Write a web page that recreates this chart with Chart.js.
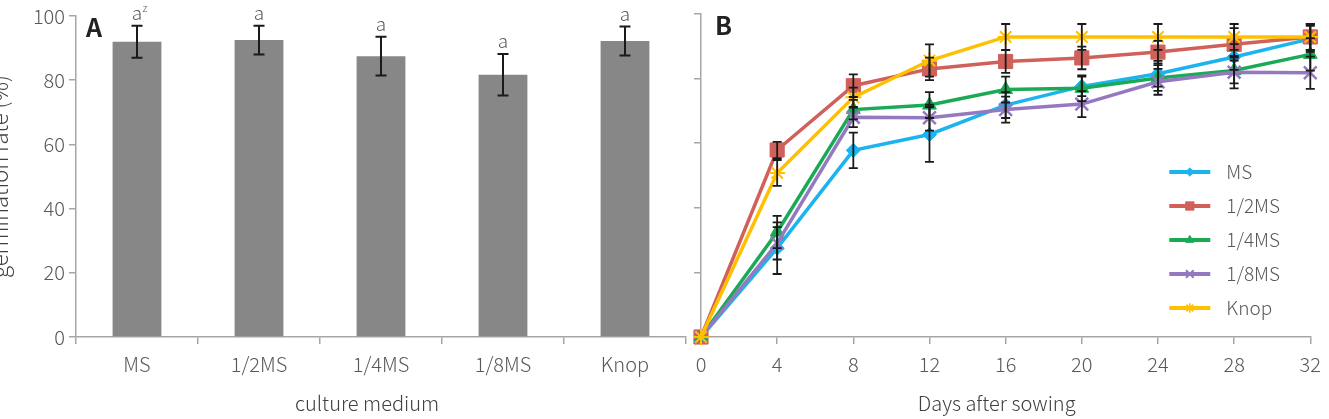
<!DOCTYPE html>
<html>
<head>
<meta charset="utf-8">
<script src="https://cdn.jsdelivr.net/npm/chart.js@4.4.0/dist/chart.umd.min.js"></script>
<style>
  html, body { margin: 0; padding: 0; background: #fff; overflow: hidden; }
  #wrap { position: relative; width: 1329px; height: 419px; overflow: hidden; }
  canvas { position: absolute; top: 0; }
  #chartA { left: -13px; }
  #chartB { left: 650px; }
</style>
</head>
<body>
<div id="wrap">
  <canvas id="chartA" width="712" height="419"></canvas>
  <canvas id="chartB" width="679" height="419"></canvas>
</div>
<script>
// Panel A - germination rate by culture medium
const media = ['MS', '1/2MS', '1/4MS', '1/8MS', 'Knop'];
const rateMean = [92, 92.5, 87.5, 81.7, 92.2];
const rateErr = [5, 4.5, 6, 6.5, 4.5];
const rateLetters = ['a', 'a', 'a', 'a', 'a'];

// Panel B - germination over time
const days = [0, 4, 8, 12, 16, 20, 24, 28, 32];
const msRate = [0, 27.5, 57.8, 62.7, 71.8, 77.6, 81.5, 86.7, 92.3];
const halfRate = [0, 57.9, 77.8, 83, 85.3, 86.4, 88.2, 90.6, 92.9];
const quarterRate = [0, 32.5, 70.4, 71.8, 76.6, 77, 80.2, 82.5, 87.5];
const eighthRate = [0, 29, 68, 67.9, 70.4, 72.1, 79, 82, 81.8];
const knopRate = [0, 50.8, 74.2, 85.6, 92.9, 92.9, 92.9, 92.9, 92.9];
const msErr = [0, 8, 5.5, 8.5, 4, 3, 4, 4, 4];
const halfErr = [0, 2.5, 3.5, 3.5, 3.5, 3.5, 3.5, 5, 4];
const quarterErr = [0, 5, 3, 4, 4, 4, 4, 4, 5];
const eighthErr = [0, 5, 3, 4, 4, 4, 4, 5, 5];
const knopErr = [0, 4, 3, 5, 4, 4, 4, 4, 4];

const axisColor = '#a6a6a6';
const tickColor = '#595959';
const titleColor = '#404040';
const fam = "'Noto Sans CJK KR', 'Noto Sans', sans-serif";

Chart.defaults.font.family = fam;
Chart.defaults.font.weight = 300;

function drawErrorBar(ctx, x, yTop, yBot, cap) {
    ctx.beginPath();
    ctx.moveTo(x, yTop);
    ctx.lineTo(x, yBot);
    ctx.moveTo(x - cap / 2, yTop);
    ctx.lineTo(x + cap / 2, yTop);
    ctx.moveTo(x - cap / 2, yBot);
    ctx.lineTo(x + cap / 2, yBot);
    ctx.stroke();
}

// x axis title, drawn a little left of the plot centre as in the figure
function drawXTitle(chart, text, shift) {
    const ctx = chart.ctx;
    const area = chart.chartArea;
    ctx.save();
    ctx.fillStyle = titleColor;
    ctx.font = '300 20px ' + fam;
    ctx.textAlign = 'center';
    ctx.textBaseline = 'alphabetic';
    ctx.fillText(text, (area.left + area.right) / 2 + shift, 411);
    ctx.restore();
}

// error bars, letters and the panel letter for A
const barExtras = {
    id: 'barExtras',
    afterDatasetsDraw(chart) {
        const ctx = chart.ctx;
        const y = chart.scales.y;
        const meta = chart.getDatasetMeta(0);
        ctx.save();
        ctx.strokeStyle = '#1a1a1a';
        ctx.lineWidth = 2;
        meta.data.forEach((bar, i) => {
            const top = y.getPixelForValue(rateMean[i] + rateErr[i]);
            const bot = y.getPixelForValue(rateMean[i] - rateErr[i]);
            drawErrorBar(ctx, bar.x, top, bot, 11);
            ctx.fillStyle = tickColor;
            ctx.font = '300 19px ' + fam;
            ctx.textAlign = 'center';
            ctx.textBaseline = 'middle';
            ctx.fillText(rateLetters[i], bar.x, top - 13);
            if (i === 0) {
                ctx.font = '300 11px ' + fam;
                ctx.fillText('z', bar.x + 8, top - 18);
            }
        });
        ctx.fillStyle = '#222';
        ctx.font = 'bold 25px ' + fam;
        ctx.textAlign = 'left';
        ctx.textBaseline = 'top';
        ctx.fillText('A', chart.chartArea.left + 10, chart.chartArea.top - 1);
        ctx.restore();
    },
    afterDraw(chart) {
        drawXTitle(chart, 'culture medium', -14);
    }
};

new Chart(document.getElementById('chartA'), {
    type: 'bar',
    data: {
        labels: media,
        datasets: [{
            data: rateMean,
            backgroundColor: '#878787',
            barPercentage: 0.4,
            categoryPercentage: 1
        }]
    },
    options: {
        responsive: false,
        animation: false,
        layout: { padding: { top: 14, right: 13, left: 0, bottom: 0 } },
        plugins: { legend: { display: false }, tooltip: { enabled: false } },
        scales: {
            x: {
                grid: { drawOnChartArea: false, tickLength: 7, color: axisColor, lineWidth: 1.5, offset: true },
                border: { color: axisColor, width: 1.5 },
                ticks: { color: tickColor, font: { size: 20 }, padding: 8 },
                afterFit: s => { s.height = 82; }
            },
            y: {
                min: 0,
                max: 100,
                ticks: { stepSize: 20, color: tickColor, font: { size: 20 }, padding: 4 },
                grid: { drawOnChartArea: false, tickLength: 7, color: axisColor, lineWidth: 1.5 },
                border: { color: axisColor, width: 1.5 },
                title: {
                    display: true, text: 'germination rate (%)', color: titleColor,
                    font: { size: 22, lineHeight: 1 }, padding: { top: 2, bottom: 0 }
                },
                afterFit: s => { s.width = 89; }
            }
        }
    },
    plugins: [barExtras]
});

// Panel B
const series = [
    { label: 'MS', data: msRate, err: msErr, color: '#1cb4ee', style: 'rectRot', radius: 7, bw: 1 },
    { label: '1/2MS', data: halfRate, err: halfErr, color: '#d0605a', style: 'rect', radius: 10, bw: 1 },
    { label: '1/4MS', data: quarterRate, err: quarterErr, color: '#1aaa55', style: 'triangle', radius: 8, bw: 1 },
    { label: '1/8MS', data: eighthRate, err: eighthErr, color: '#9479c0', style: 'crossRot', radius: 9, bw: 2.5 },
    { label: 'Knop', data: knopRate, err: knopErr, color: '#ffc000', style: 'star', radius: 8, bw: 2 }
];

const lineExtras = {
    id: 'lineExtras',
    afterDatasetsDraw(chart) {
        const ctx = chart.ctx;
        const xs = chart.scales.x, ys = chart.scales.y;
        ctx.save();
        ctx.strokeStyle = '#1a1a1a';
        ctx.lineWidth = 1.8;
        series.forEach(s => {
            s.data.forEach((v, j) => {
                if (!s.err[j]) return;
                const x = xs.getPixelForValue(days[j]);
                drawErrorBar(ctx, x, ys.getPixelForValue(v + s.err[j]), ys.getPixelForValue(v - s.err[j]), 9);
            });
        });
        ctx.restore();
    },
    afterDraw(chart) {
        const ctx = chart.ctx;
        const area = chart.chartArea;
        ctx.save();
        series.forEach((s, k) => {
            const y = area.top + 158 + 34 * k;
            const x0 = area.right - 141;
            ctx.strokeStyle = s.color;
            ctx.lineWidth = 4;
            ctx.beginPath();
            ctx.moveTo(x0, y);
            ctx.lineTo(x0 + 41, y);
            ctx.stroke();
            ctx.fillStyle = s.color;
            ctx.lineWidth = s.bw * 0.8;
            Chart.helpers.drawPoint(ctx, {
                pointStyle: s.style, radius: s.radius * 0.6, borderWidth: s.bw * 0.8, rotation: 0
            }, x0 + 20.5, y);
            ctx.fillStyle = tickColor;
            ctx.font = '300 19px ' + fam;
            ctx.textAlign = 'left';
            ctx.textBaseline = 'middle';
            ctx.fillText(s.label, x0 + 57, y);
        });
        ctx.fillStyle = '#222';
        ctx.font = 'bold 25px ' + fam;
        ctx.textAlign = 'left';
        ctx.textBaseline = 'top';
        ctx.fillText('B', area.left + 14, area.top - 1);
        ctx.restore();
        drawXTitle(chart, 'Days after sowing', -9);
    }
};

new Chart(document.getElementById('chartB'), {
    type: 'line',
    data: {
        datasets: series.map((s, k) => ({
            label: s.label,
            data: days.map((d, j) => ({ x: d, y: s.data[j] })),
            borderColor: s.color,
            backgroundColor: s.color,
            borderWidth: 3.5,
            pointStyle: s.style,
            pointRadius: s.radius,
            pointBorderWidth: s.bw,
            pointBorderColor: s.color,
            pointBackgroundColor: s.color,
            tension: 0,
            clip: false,
            order: series.length - k
        }))
    },
    options: {
        responsive: false,
        animation: false,
        layout: { padding: { top: 14, right: 17, left: 0, bottom: 0 } },
        plugins: { legend: { display: false }, tooltip: { enabled: false } },
        scales: {
            x: {
                type: 'linear',
                min: 0,
                max: 32,
                ticks: { stepSize: 4, color: tickColor, font: { size: 20 }, padding: 8 },
                grid: { drawOnChartArea: false, tickLength: 7, color: axisColor, lineWidth: 1.5 },
                border: { color: axisColor, width: 1.5 },
                afterFit: s => { s.height = 82; }
            },
            y: {
                min: 0,
                max: 100,
                ticks: { stepSize: 20, display: false },
                grid: { drawOnChartArea: false, tickLength: 7, color: axisColor, lineWidth: 1.5 },
                border: { color: axisColor, width: 1.5 },
                afterFit: s => { s.width = 51; }
            }
        }
    },
    plugins: [lineExtras]
});
</script>
</body>
</html>
